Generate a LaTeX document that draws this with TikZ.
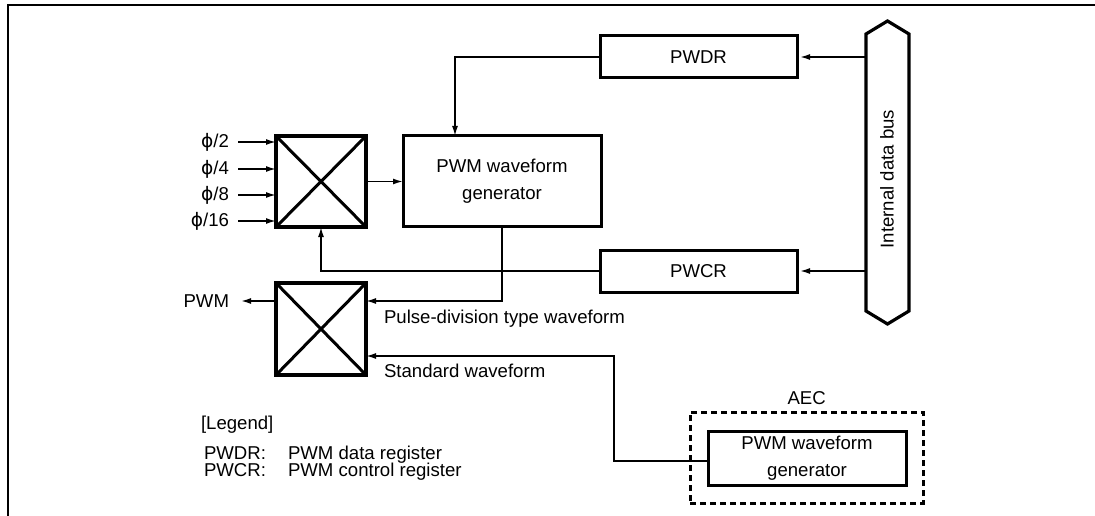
\documentclass[tikz,border=0pt]{standalone}
\usepackage{fontspec}
\setmainfont{Liberation Sans}
\newfontfamily\dvs{DejaVu Sans}
\usetikzlibrary{arrows.meta,calc}
\begin{document}
\begin{tikzpicture}[x=1pt,y=-1pt,
  font=\fontsize{18.6}{27}\selectfont,
  box/.style={draw, line width=3pt, inner sep=0pt, outer sep=0pt, align=center},
  mux/.style={draw, line width=3.4pt, minimum width=90pt, minimum height=91pt, inner sep=0pt, outer sep=0pt},
  conn/.style={line width=1.6pt},
  arr/.style={conn, -{Latex[length=10pt,width=6pt]}},
  lbl/.style={inner sep=0pt, outer sep=0pt}]
\useasboundingbox (0,0) rectangle (1095,516);
\draw[line width=2.6pt] (1095,5) -- (8,5) -- (8,516);

% multiplexers
\node[mux] (m1) at (321,181.5) {};
\draw[line width=3pt] (m1.north west) -- (m1.south east) (m1.north east) -- (m1.south west);
\node[mux, minimum height=92pt] (m2) at (321,329) {};
\draw[line width=3pt] (m2.north west) -- (m2.south east) (m2.north east) -- (m2.south west);

% boxes
\node[box, minimum width=198pt, minimum height=90pt] (gen) at (502,181) {PWM waveform\\generator};
\node[box, minimum width=197pt, minimum height=42pt] (pwdr) at (698.5,57) {PWDR};
\node[box, minimum width=197pt, minimum height=42pt] (pwcr) at (698.5,271) {PWCR};

% bus
\node[inner sep=0pt, outer sep=0pt, minimum width=43pt, minimum height=277pt] (bus) at (887.5,172.5) {};
\draw[line width=3.2pt, line join=miter] (bus.north west) -- ($(bus.north)+(0,-13)$) -- (bus.north east)
  -- (bus.south east) -- ($(bus.south)+(0,13)$) -- (bus.south west) -- cycle;
\node[lbl, rotate=90] (busl) at (887,179) {Internal data bus};

% AEC
\node[draw, line width=3pt, dash pattern=on 6pt off 4pt, minimum width=233pt, minimum height=91pt, inner sep=0pt] (aec) at (806.5,457.5) {};
\node[lbl, anchor=base] (aecl) at (806.7,404) {AEC};
\node[box, minimum width=198pt, minimum height=54pt] (inner) at (807,458) {PWM waveform\\generator};

% inputs
\foreach \n in {2,4,8,16} {
  \pgfmathsetmacro{\yy}{\n==2 ? 142 : (\n==4 ? 169 : (\n==8 ? 195 : 221))}
  \node[lbl, anchor=east, inner xsep=9pt] (in\n) at (238,\yy) {{\dvs ϕ}/\n};
  \draw[arr] (in\n.east) -- (in\n.east -| m1.west);
}

% connectors
\draw[arr] (m1.east) -- (m1.east -| gen.west);
\draw[arr] (pwdr.west) -| ([xshift=52pt]gen.north west);
\draw[arr, shorten >=3pt] (bus.west |- pwdr.east) -- (pwdr.east);
\draw[arr, shorten >=3pt] (bus.west |- pwcr.east) -- (pwcr.east);
\draw[arr] (pwcr.west) -| (m1.south);
\coordinate (m2a) at ($(m2.north east)+(0,18)$);
\coordinate (m2b) at ($(m2.south east)+(0,-19)$);
\draw[arr] (gen.south) |- (m2a);
\draw[arr] ([yshift=-3pt]inner.west) -| ($(m2b)+(248,0)$) -- (m2b);
\node[lbl, anchor=east, inner xsep=12pt] (pwm) at (241,301) {PWM};
\draw[arr] ($(m2.north west)+(0,18)$) -- (pwm.east);

% labels
\node[lbl, anchor=base west] (pdl) at (384,323) {Pulse-division type waveform};
\node[lbl, anchor=base west] (swl) at (384,377) {Standard waveform};

% legend
\node[lbl, anchor=base west] (leg) at (201,429) {[Legend]};
\node[lbl, anchor=base west] (k1) at (204,459) {PWDR:};
\node[lbl, anchor=base west] (v1) at (288,459) {PWM data register};
\node[lbl, anchor=base west] (k2) at (204,476) {PWCR:};
\node[lbl, anchor=base west] (v2) at (288,476) {PWM control register};
\end{tikzpicture}
\end{document}
